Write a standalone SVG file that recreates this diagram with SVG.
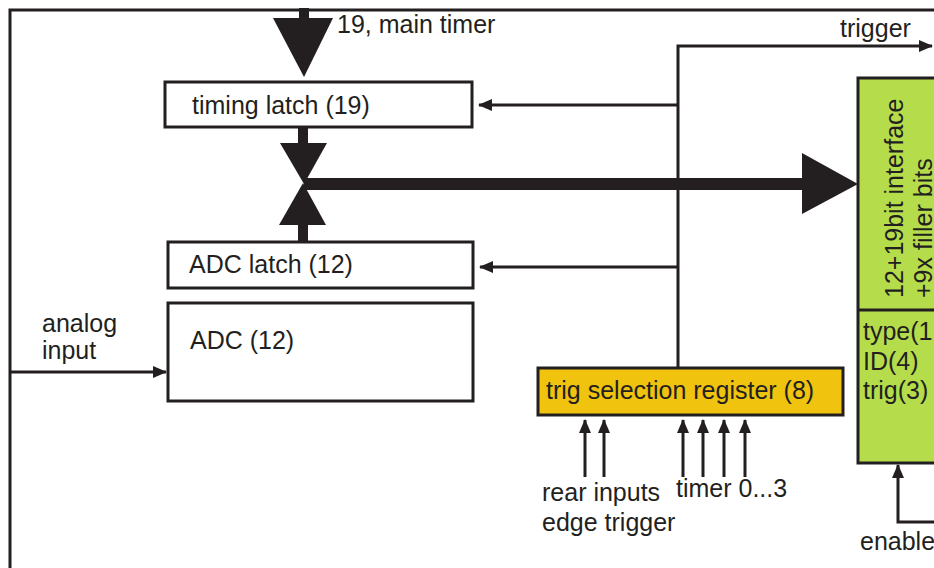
<svg xmlns="http://www.w3.org/2000/svg" width="934" height="568" viewBox="0 0 934 568">
<style>
text{font-family:"Liberation Sans",Arial,sans-serif;font-size:25px;fill:#231f20}
.box{fill:#fff;stroke:#231f20;stroke-width:3}
.ln{fill:none;stroke:#231f20;stroke-width:3}
.ah{fill:#231f20}
</style>
<defs>
<marker id="arr" viewBox="0 0 14 12" refX="13" refY="6" markerWidth="14" markerHeight="12" markerUnits="userSpaceOnUse" orient="auto">
<path d="M0,0 L14,6 L0,12 Z" fill="#231f20"/>
</marker>
</defs>
<rect x="0" y="0" width="934" height="568" fill="#fff"/>
<g id="frame">
<path class="ln" d="M10,568 V10 H934"/>
</g>
<g id="connectors">
<rect class="ah" x="299" y="8" width="10" height="14"/>
<path class="ah" d="M273,18 L333,18 L304,77 Z"/>
<rect class="ah" x="298" y="127" width="10" height="18"/>
<path class="ah" d="M280,143 L327,143 L304,184 Z"/>
<path class="ah" d="M279,225 L326,225 L303,183 Z"/>
<rect class="ah" x="298" y="224" width="10" height="18"/>
<rect class="ah" x="304" y="178" width="500" height="12"/>
<path class="ah" d="M802,153 L858,184 L802,214 Z"/>
<path class="ln" d="M678,368 V46 H932" marker-end="url(#arr)"/>
<path class="ln" d="M678,105 H479" marker-end="url(#arr)"/>
<path class="ln" d="M678,267 H480" marker-end="url(#arr)"/>
<path class="ln" d="M10,372 H166" marker-end="url(#arr)"/>
<path class="ln" d="M585,477 V420" marker-end="url(#arr)"/>
<path class="ln" d="M604,477 V420" marker-end="url(#arr)"/>
<path class="ln" d="M683,477 V420" marker-end="url(#arr)"/>
<path class="ln" d="M703,477 V420" marker-end="url(#arr)"/>
<path class="ln" d="M724,477 V420" marker-end="url(#arr)"/>
<path class="ln" d="M745,477 V420" marker-end="url(#arr)"/>
<path class="ln" d="M934,522 H898 V465" marker-end="url(#arr)"/>
</g>
<g id="timing-latch">
<rect class="box" x="165" y="82" width="307" height="45"/>
<text x="192" y="114">timing latch (19)</text>
</g>
<g id="adc-latch">
<rect class="box" x="168" y="242" width="305" height="46"/>
<text x="189" y="273">ADC latch (12)</text>
</g>
<g id="adc">
<rect class="box" x="168" y="303" width="305" height="98"/>
<text x="190" y="349">ADC (12)</text>
</g>
<g id="trig-register">
<rect class="box" x="538" y="368" width="305" height="47" style="fill:#f0c30f"/>
<text x="546" y="399">trig selection register (8)</text>
</g>
<g id="interface">
<rect class="box" x="858" y="78" width="90" height="385" style="fill:#b5dd4b"/>
<path class="ln" d="M858,310 H940"/>
<text transform="translate(903,298) rotate(-90)">12+19bit interface</text>
<text transform="translate(932,298) rotate(-90)">+9x filler bits</text>
<text x="863" y="340">type(1</text>
<text x="863" y="370">ID(4)</text>
<text x="863" y="399">trig(3)</text>
</g>
<g id="labels">
<text x="337" y="33">19, main timer</text>
<text x="840" y="37">trigger</text>
<text x="42" y="332">analog</text>
<text x="42" y="359">input</text>
<text x="542" y="501">rear inputs</text>
<text x="542" y="531">edge trigger</text>
<text x="676" y="497">timer 0...3</text>
<text x="860" y="550">enable</text>
</g>
</svg>
